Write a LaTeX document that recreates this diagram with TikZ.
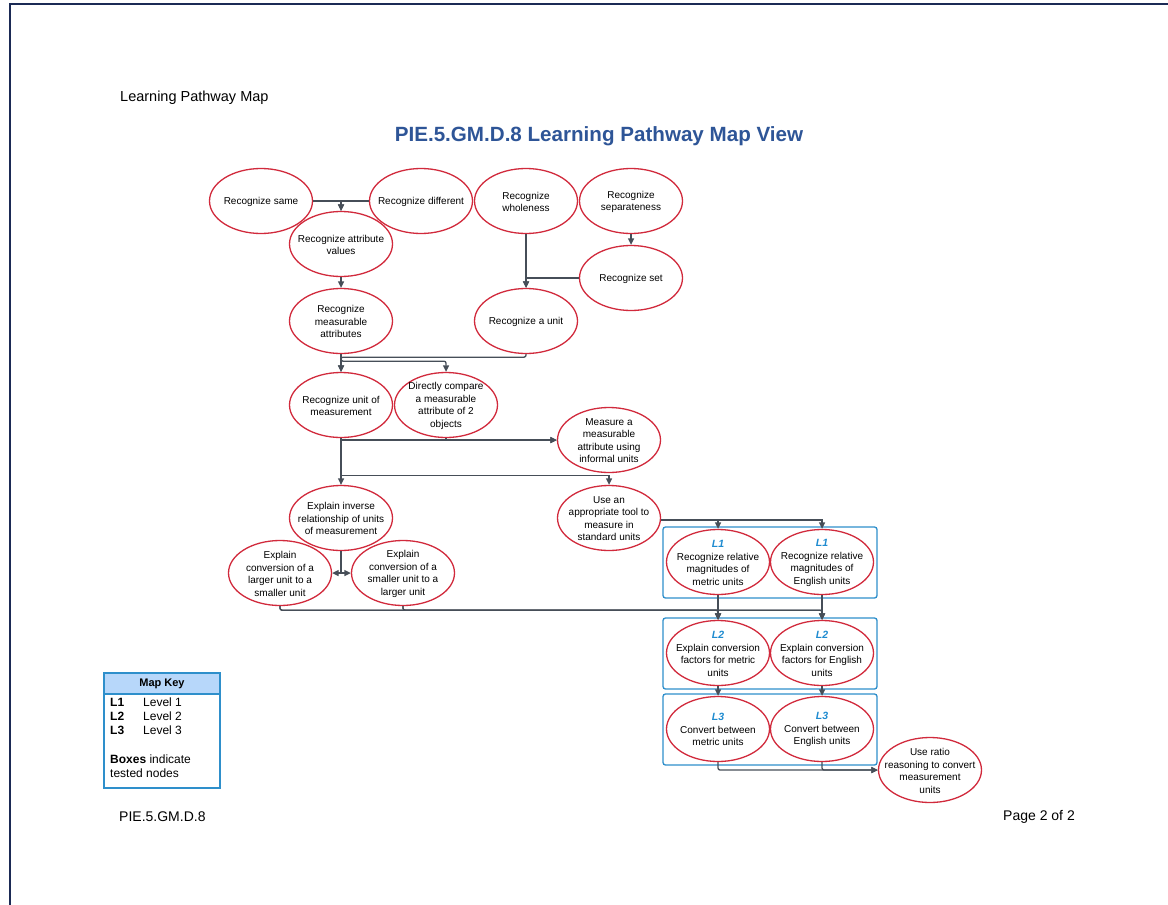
\documentclass[tikz,border=0pt]{standalone}
\usepackage{fontspec}
\setmainfont{Liberation Sans}
\usetikzlibrary{arrows.meta,shapes.geometric}
\definecolor{ered}{HTML}{D12A3C}
\definecolor{conn}{HTML}{464E58}
\definecolor{tblue}{HTML}{2E8FCB}
\definecolor{lblue}{HTML}{1E8BD0}
\definecolor{ttl}{HTML}{2E5597}
\definecolor{navy}{HTML}{1B2A55}
\definecolor{keyfill}{HTML}{B7D7FA}
\newcommand\lv[1]{{\fontsize{10.5}{12.5}\selectfont\bfseries\itshape\color{lblue}#1}}
\begin{document}
\begin{tikzpicture}[x=1pt,y=-1pt,
 el/.style={ellipse, draw=ered, line width=1.3pt, fill=white, minimum width=103pt, minimum height=65pt, inner sep=0pt,
   label={[inner sep=0pt, align=center, yshift=-0.7pt, font=\fontsize{10}{12.5}\selectfont]center:#1}},
 cn/.style={draw=conn, line width=1.3pt},
 ar/.style={cn, -{Triangle[length=6.5pt,width=6pt]}},
 tb/.style={draw=tblue, line width=1.3pt, rounded corners=2.5pt},
 plain/.style={inner sep=0pt, font=\fontsize{14}{16}\selectfont},
 keytxt/.style={inner sep=0pt, anchor=west, font=\fontsize{12}{14}\selectfont}]
\useasboundingbox (0,0) rectangle (1168,905);
% page border
\draw[navy, line width=2pt] (10,905) -- (10,4) -- (1168,4);
% header texts
\node[inner sep=0pt, font=\fontsize{14.5}{16}\selectfont, anchor=west] (hdr) at (120,98) {Learning Pathway Map};
\node[inner sep=0pt, font=\fontsize{20.6}{24}\selectfont\bfseries, text=ttl] (title) at (599,136) {PIE.5.GM.D.8 Learning Pathway Map View};
\node[plain, anchor=west] (code) at (119,816.5) {PIE.5.GM.D.8};
\node[plain, anchor=east] (page) at (1075,816.5) {Page 2 of 2};
% tested boxes
\draw[tb] (663,527) rectangle (877,598);
\draw[tb] (663,618) rectangle (877,689);
\draw[tb] (663,694) rectangle (877,765);
% nodes
\node[el={Recognize same}] (same) at (261,201) {};
\node[el={Recognize different}] (diff) at (421,201) {};
\node[el={Recognize\\wholeness}] (whole) at (526,201) {};
\node[el={Recognize\\separateness}] (sep) at (631,201) {};
\node[el={Recognize attribute\\values}] (attr) at (341,244) {};
\node[el={Recognize set}] (set) at (631,278) {};
\node[el={Recognize\\measurable\\attributes}] (meas) at (341,321) {};
\node[el={Recognize a unit}] (unit) at (526,321) {};
\node[el={Recognize unit of\\measurement}] (um) at (341,405) {};
\node[el={Directly compare\\a measurable\\attribute of 2\\objects}] (direct) at (446,405) {};
\node[el={Measure a\\measurable\\attribute using\\informal units}] (inform) at (609,440) {};
\node[el={Explain inverse\\relationship of units\\of measurement}] (inv) at (341,518) {};
\node[el={Use an\\appropriate tool to\\measure in\\standard units}] (tool) at (609,518) {};
\node[el={Explain\\conversion of a\\larger unit to a\\smaller unit}] (larger) at (280,573) {};
\node[el={Explain\\conversion of a\\smaller unit to a\\larger unit}] (smaller) at (403,573) {};
\node[el={\lv{L1}\\Recognize relative\\magnitudes of\\metric units}] (lom) at (718,562) {};
\node[el={\lv{L1}\\Recognize relative\\magnitudes of\\English units}] (loe) at (822,562) {};
\node[el={\lv{L2}\\Explain conversion\\factors for metric\\units}] (ltm) at (718,653) {};
\node[el={\lv{L2}\\Explain conversion\\factors for English\\units}] (lte) at (822,653) {};
\node[el={\lv{L3}\\Convert between\\metric units}] (lhm) at (718,729) {};
\node[el={\lv{L3}\\Convert between\\English units}] (lhe) at (822,729) {};
\node[el={Use ratio\\reasoning to convert\\measurement\\units}] (ratio) at (930,770) {};
% connectors
\draw[ar] (same.east) -| (attr.north);
\draw[ar] (diff.west) -| (attr.north);
\draw[ar] (attr.south) -- (meas.north);
\draw[ar] (sep.south) -- (set.north);
\draw[ar] (whole.south) -- (unit.north);
\draw[ar] (set.west) -| (unit.north);
\draw[ar] (meas.south) -- (um.north);
\draw[ar, rounded corners=2pt] (meas.south) -- ++(0,7) -| (direct.north);
\draw[ar, rounded corners=2pt] (unit.south) -- ++(0,3) -| (um.north);
\draw[ar] (um.south) |- (inform.west);
\draw[ar] (direct.south) |- (inform.west);
\draw[ar] (um.south) -- (inv.north);
\draw[ar] (um.south) -- ++(0,37) -| (tool.north);
\draw[ar] (inv.south) |- (larger.east);
\draw[ar] (inv.south) |- (smaller.west);
\draw[ar] (tool.east) ++(0,2) -| (lom.north);
\draw[ar] (tool.east) ++(0,2) -| (loe.north);
\draw[ar] (lom.south) -- (ltm.north);
\draw[ar] (loe.south) -- (lte.north);
\draw[ar, rounded corners=2pt] (larger.south) -- ++(0,4) -| (ltm.north);
\draw[ar, rounded corners=2pt] (larger.south) -- ++(0,4) -| (lte.north);
\draw[ar, rounded corners=2pt] (smaller.south) -- ++(0,4) -| (ltm.north);
\draw[ar, rounded corners=2pt] (smaller.south) -- ++(0,4) -| (lte.north);
\draw[ar] (ltm.south) -- (lhm.north);
\draw[ar] (lte.south) -- (lhe.north);
\draw[ar, rounded corners=2pt] (lhm.south) |- (ratio.west);
\draw[ar, rounded corners=2pt] (lhe.south) |- (ratio.west);
% map key
\draw[tblue, line width=1.3pt, fill=white] (104,673) rectangle (220,788);
\draw[tblue, line width=1.3pt, fill=keyfill] (104,673) rectangle (220,694);
\node[inner sep=0pt, font=\fontsize{11}{13}\selectfont\bfseries] (keyhd) at (162,684) {Map Key};
\node[keytxt] (k1a) at (110,702.5) {\bfseries L1};
\node[keytxt] (k1b) at (143,702.5) {Level 1};
\node[keytxt] (k2a) at (110,716.5) {\bfseries L2};
\node[keytxt] (k2b) at (143,716.5) {Level 2};
\node[keytxt] (k3a) at (110,730.5) {\bfseries L3};
\node[keytxt] (k3b) at (143,730.5) {Level 3};
\node[keytxt] (k4) at (110,759.5) {\textbf{Boxes} indicate};
\node[keytxt] (k5) at (110,773.5) {tested nodes};
\end{tikzpicture}
\end{document}
